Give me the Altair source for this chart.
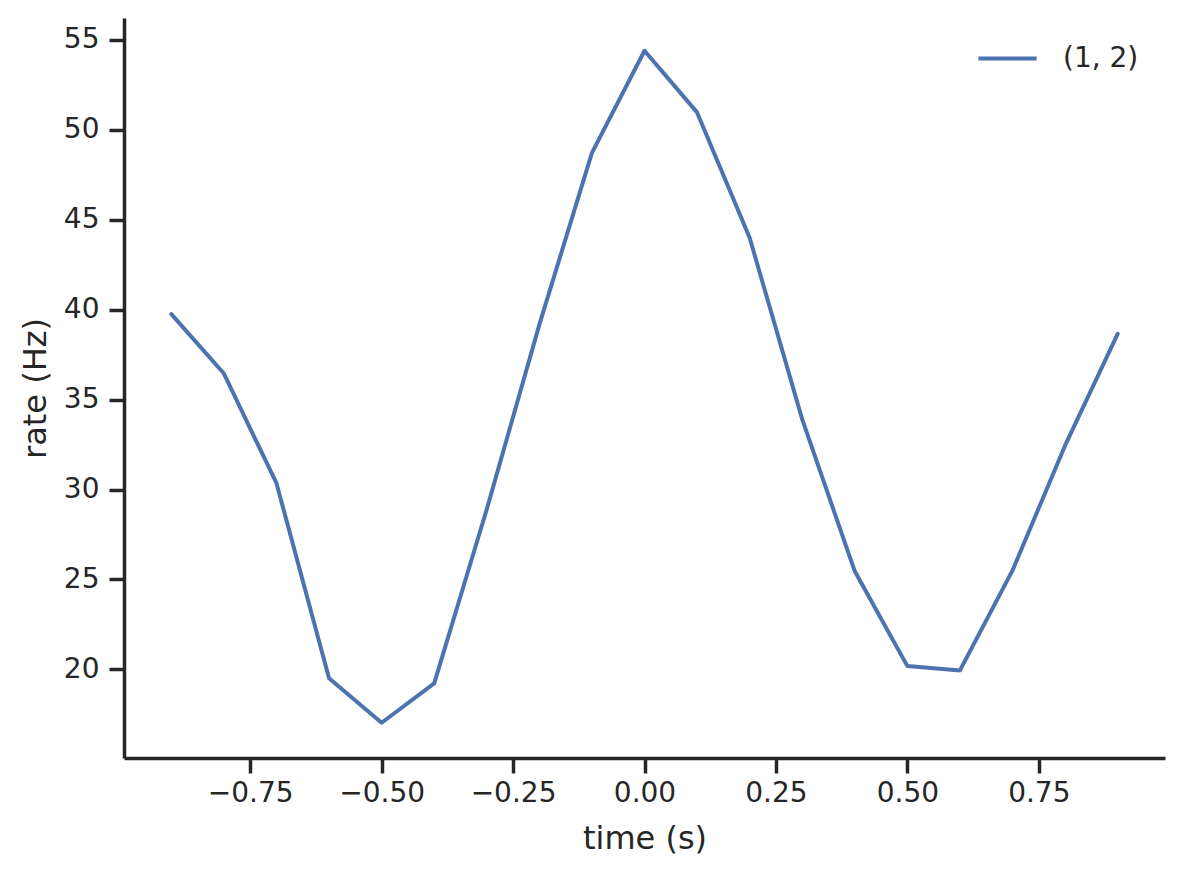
import altair as alt
import pandas as pd

time_s = [-0.9, -0.8, -0.7, -0.6, -0.5, -0.4, -0.3, -0.2, -0.1, 0.0,
          0.1, 0.2, 0.3, 0.4, 0.5, 0.6, 0.7, 0.8, 0.9]
rate_hz = [39.75, 36.45, 30.35, 19.5, 17.03, 19.22, 28.9, 39.17, 48.72, 54.4,
           50.97, 44.0, 33.9, 25.45, 20.18, 19.94, 25.5, 32.45, 38.66]
series = ["(1, 2)"] * len(time_s)
x_ticks = [-0.75, -0.5, -0.25, 0.0, 0.25, 0.5, 0.75]
y_ticks = [20, 25, 30, 35, 40, 45, 50, 55]

df = pd.DataFrame({"time": time_s, "rate": rate_hz, "series": series})

FONT = "DejaVu Sans"
DARK = "#262626"

chart = alt.Chart(df).mark_line(strokeWidth=4, strokeCap="round", strokeJoin="round").encode(
    x=alt.X("time:Q",
            scale=alt.Scale(domain=[-0.99, 0.99], nice=False, zero=False),
            axis=alt.Axis(title="time (s)", values=x_ticks, format=".2f",
                          grid=False, tickSize=15, tickWidth=3.5, domainWidth=3.5,
                          domainColor=DARK, tickColor=DARK, labelColor=DARK,
                          labelFont=FONT, labelFontSize=28, labelPadding=6,
                          titleFont=FONT, titleFontSize=32, titleFontWeight="normal",
                          titleColor=DARK, titleY=80, titleBaseline="middle")),
    y=alt.Y("rate:Q",
            scale=alt.Scale(domain=[15.07, 56.22], nice=False, zero=False),
            axis=alt.Axis(title="rate (Hz)", values=y_ticks, format="d",
                          grid=False, tickSize=15, tickWidth=3.5, domainWidth=3.5,
                          domainColor=DARK, tickColor=DARK, labelColor=DARK,
                          labelFont=FONT, labelFontSize=28, labelPadding=10,
                          titleFont=FONT, titleFontSize=32, titleFontWeight="normal",
                          titleColor=DARK, titleX=-89, titleBaseline="middle",
                          titleAngle=-90)),
    color=alt.Color("series:N",
                    scale=alt.Scale(range=["#4c72b0"]),
                    legend=alt.Legend(title=None, orient="none", legendX=852, legendY=9,
                                      symbolType="stroke", symbolSize=3400,
                                      symbolStrokeWidth=4, labelFont=FONT,
                                      labelFontSize=28, labelColor=DARK,
                                      labelOffset=24)),
).properties(
    width=1041, height=740,
    background="white",
    padding={"left": 116, "top": 10, "right": 10, "bottom": 100},
    autosize=alt.AutoSizeParams(type="none"),
).configure_view(stroke=None)

chart.save("out.html", embed_options={"renderer": "svg", "actions": False})
